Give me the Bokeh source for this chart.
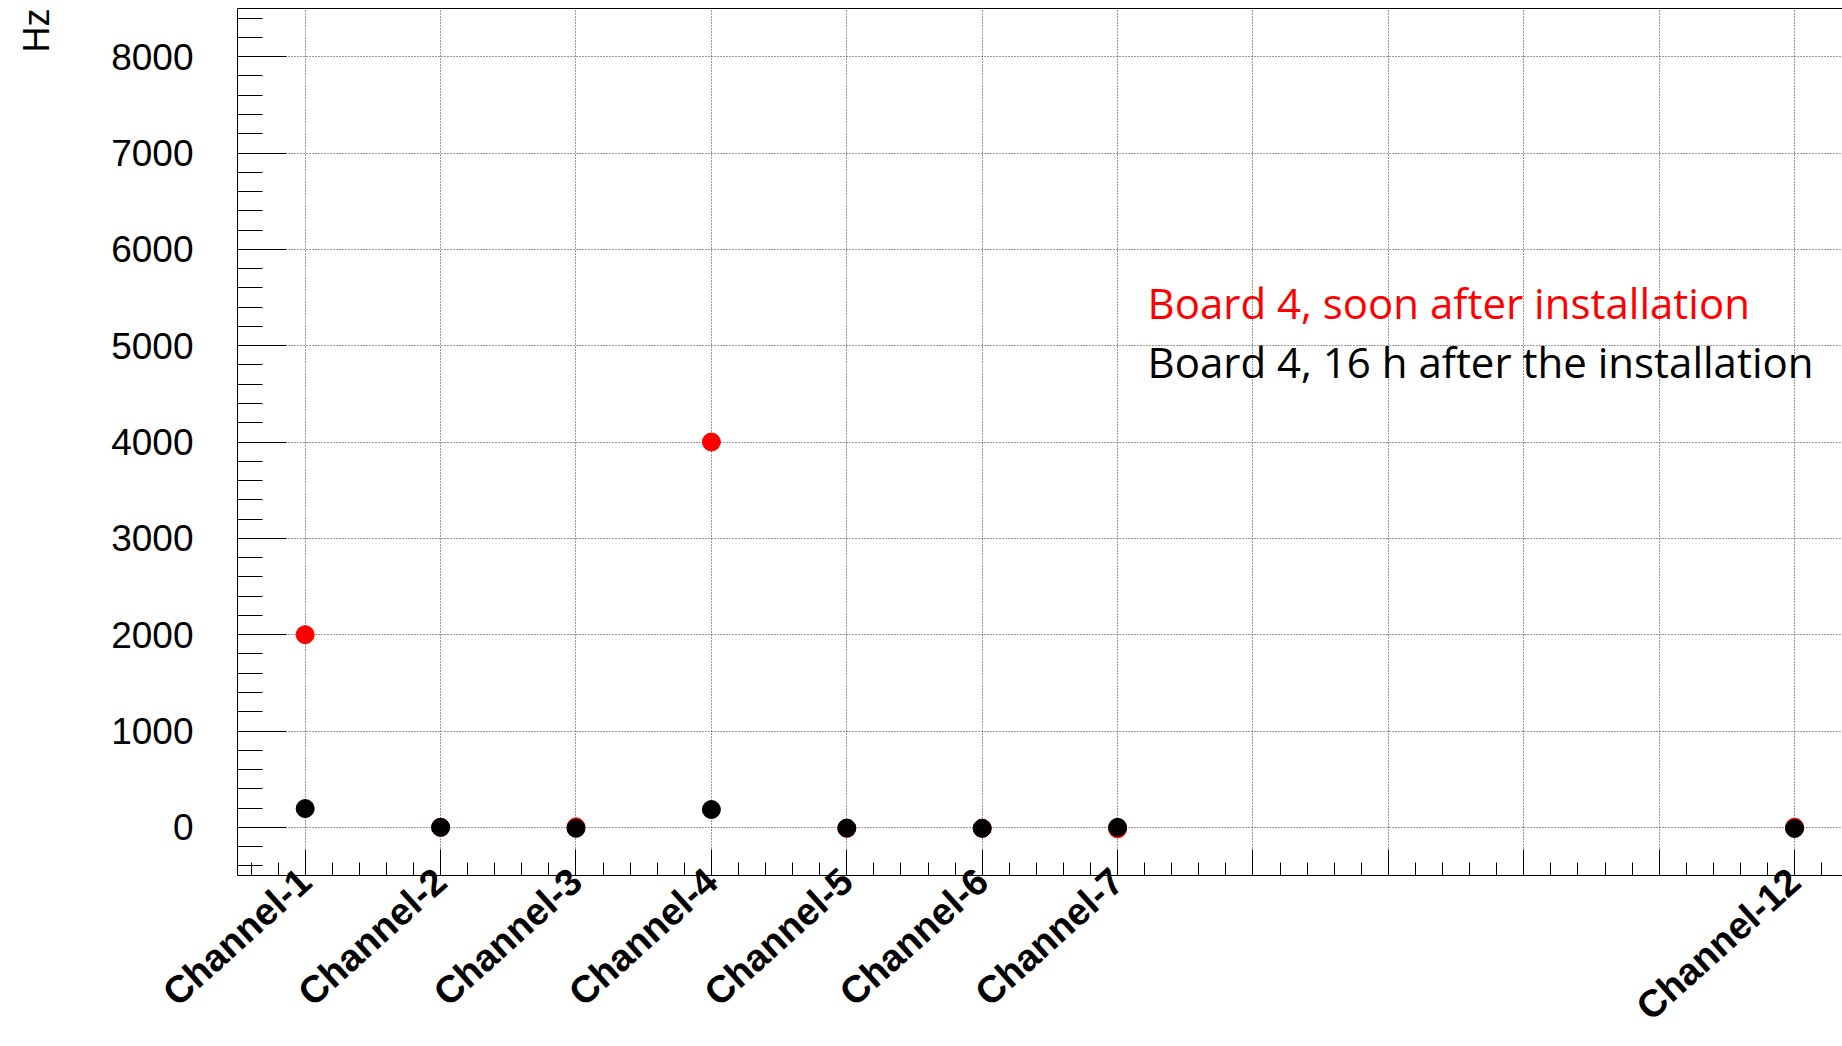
import math
from bokeh.plotting import figure
from bokeh.models import (Range1d, SingleIntervalTicker, LinearAxis, FixedTicker, Label, Title)
from bokeh.embed import file_html
from bokeh.resources import INLINE

# ---------------- data ----------------
channels = ["Channel-1", "Channel-2", "Channel-3", "Channel-4",
            "Channel-5", "Channel-6", "Channel-7", "Channel-12"]
channel_pos = [1, 2, 3, 4, 5, 6, 7, 12]
all_ticks = [1, 2, 3, 4, 5, 6, 7, 8, 9, 10, 11, 12]
rate_soon = [2000, 0, 5, 4000, -10, -10, -15, 2]      # red
rate_16h = [195, 0, -10, 185, -8, -10, 0, -12]        # black
legend_texts = ["Board 4, soon after installation",
                "Board 4, 16 h after the installation"]
y_title = "Hz"

# ---------------- figure ----------------
p = figure(width=1842, height=1046, output_backend="svg", toolbar_location=None,
           x_range=Range1d(0.5, 12.354), y_range=Range1d(-500, 8500),
           min_border_left=237, min_border_right=0, min_border_top=8,
           min_border_bottom=168)
p.outline_line_color = None
p.background_fill_color = "white"
p.border_fill_color = "white"

# x axis
overrides = {t: "" for t in all_ticks}
for pos, name in zip(channel_pos, channels):
    overrides[pos] = name
xa = p.xaxis[0]
xa.ticker = SingleIntervalTicker(interval=1, num_minor_ticks=5)
xa.major_label_overrides = overrides
xa.major_label_orientation = math.radians(42)
xa.major_label_text_font = "Liberation Sans"
xa.major_label_text_font_style = "bold"
xa.major_label_text_font_size = "38px"
xa.major_label_text_color = "black"
xa.major_label_standoff = 0
xa.major_tick_in = 26
xa.major_tick_out = 0
xa.minor_tick_in = 13
xa.minor_tick_out = 0
xa.axis_line_color = "black"
xa.major_tick_line_color = "black"
xa.minor_tick_line_color = "black"

# y axis
ya = p.yaxis[0]
ya.ticker = SingleIntervalTicker(interval=1000, num_minor_ticks=5)
ya.major_tick_in = 49
ya.major_tick_out = 0
ya.minor_tick_in = 25
ya.minor_tick_out = 0
ya.axis_line_color = "black"
ya.major_tick_line_color = "black"
ya.minor_tick_line_color = "black"
ya.major_label_text_font = "Liberation Sans"
ya.major_label_text_font_size = "37px"
ya.major_label_text_color = "black"
ya.major_label_standoff = 44

# y title, aligned to the top end of the axis (second blank line only reserves space)
p.add_layout(Title(text=y_title + "\n ", align="right", vertical_align="top",
                   text_font="Liberation Sans", text_font_style="normal",
                   text_font_size="36px", text_color="black", standoff=18), "left")

# top frame border
top_axis = LinearAxis(ticker=FixedTicker(ticks=[]), axis_line_color="black",
                      major_tick_in=0, major_tick_out=0, minor_tick_in=0, minor_tick_out=0,
                      major_label_standoff=0)
p.add_layout(top_axis, "above")

# grid
p.grid.grid_line_color = "black"
p.grid.grid_line_alpha = 0.8
p.grid.grid_line_dash = "1 2"
p.grid.grid_line_width = 1

# data points
p.scatter(channel_pos, rate_soon, size=18, color="#ff0000", marker="circle")
p.scatter(channel_pos, rate_16h, size=18, color="black", marker="circle")

# legend texts
p.add_layout(Label(x=910, y=573, x_units="screen", y_units="screen", text=legend_texts[0],
                   text_font="Open Sans", text_font_size="42px", text_color="#ff0000",
                   text_baseline="alphabetic", text_align="left"))
p.add_layout(Label(x=910, y=514, x_units="screen", y_units="screen", text=legend_texts[1],
                   text_font="Open Sans", text_font_size="42px", text_color="black",
                   text_baseline="alphabetic", text_align="left"))

open("out.html", "w").write(file_html(p, INLINE))
